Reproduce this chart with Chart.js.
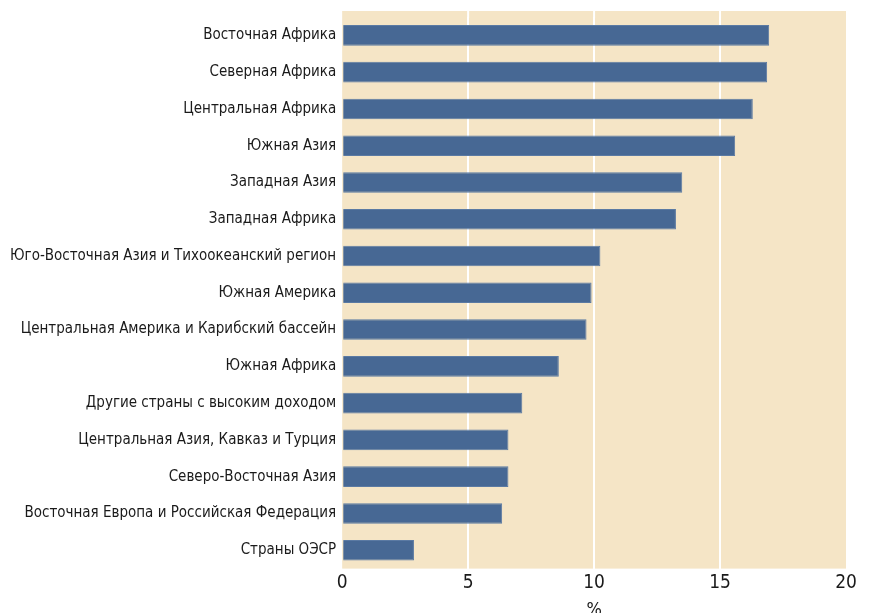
<!DOCTYPE html>
<html lang="ru">
<head>
    <meta charset="UTF-8">
    <title>Регионы, %</title>
    <script src="https://cdn.jsdelivr.net/npm/chart.js"></script>
    <style>
        html, body { margin: 0; padding: 0; background: #ffffff; }
        .chart-box { width: 869px; height: 613px; position: relative; }
    </style>
</head>
<body>
    <div class="chart-box">
        <canvas id="regionChart"></canvas>
    </div>

    <script>
        // Регионы (сверху вниз)
        const regions = [
            'Восточная Африка',
            'Северная Африка',
            'Центральная Африка',
            'Южная Азия',
            'Западная Азия',
            'Западная Африка',
            'Юго-Восточная Азия и Тихоокеанский регион',
            'Южная Америка',
            'Центральная Америка и Карибский бассейн',
            'Южная Африка',
            'Другие страны с высоким доходом',
            'Центральная Азия, Кавказ и Турция',
            'Северо-Восточная Азия',
            'Восточная Европа и Российская Федерация',
            'Страны ОЭСР'
        ];

        // Значения, %
        const shares = [16.95, 16.87, 16.3, 15.6, 13.5, 13.25, 10.25, 9.9, 9.7, 8.6, 7.15, 6.6, 6.6, 6.35, 2.85];

        const xTicks = [0, 5, 10, 15, 20];

        const fontFamily = '"Liberation Sans Narrow", "DejaVu Sans Condensed", "Roboto", sans-serif';
        const topExtra = 6; // фон чуть выше первой категории

        // Бежевый фон области построения
        const plotBackground = {
            id: 'plotBackground',
            beforeDraw(chart) {
                const { ctx, chartArea, scales } = chart;
                const top = chartArea.top - topExtra;
                ctx.save();
                ctx.fillStyle = '#f5e5c6';
                ctx.fillRect(chartArea.left, top, chartArea.right - chartArea.left, chartArea.bottom - top);
                // продолжение белых линий сетки вверх
                ctx.strokeStyle = '#ffffff';
                ctx.lineWidth = 2;
                xTicks.slice(1, -1).forEach(v => {
                    const x = scales.x.getPixelForValue(v);
                    ctx.beginPath();
                    ctx.moveTo(x, top);
                    ctx.lineTo(x, chartArea.top + 1);
                    ctx.stroke();
                });
                ctx.restore();
            }
        };

        const ctx = document.getElementById('regionChart').getContext('2d');
        new Chart(ctx, {
            type: 'bar',
            data: {
                labels: regions,
                datasets: [{
                    data: shares,
                    backgroundColor: '#476894',
                    borderColor: '#5b7aa3',
                    borderWidth: 1,
                    categoryPercentage: 1,
                    barPercentage: 0.56
                }]
            },
            options: {
                indexAxis: 'y',
                responsive: true,
                maintainAspectRatio: false,
                animation: false,
                layout: { padding: { top: 17, right: 23, bottom: -8, left: 4 } },
                plugins: {
                    legend: { display: false },
                    tooltip: { enabled: false }
                },
                scales: {
                    x: {
                        min: 0,
                        max: 20,
                        afterBuildTicks(axis) {
                            axis.ticks = xTicks.map(v => ({ value: v }));
                        },
                        grid: {
                            // без линий по краям области
                            color: c => (c.tick && (c.tick.value === 0 || c.tick.value === 20)) ? 'rgba(0,0,0,0)' : '#ffffff',
                            lineWidth: 2,
                            drawTicks: false
                        },
                        border: { display: false },
                        ticks: {
                            color: '#1a1a1a',
                            padding: 3,
                            font: { family: fontFamily, size: 19 }
                        },
                        title: {
                            display: true,
                            text: '%',
                            color: '#1a1a1a',
                            padding: { top: 2, bottom: 0 },
                            font: { family: fontFamily, size: 18 }
                        }
                    },
                    y: {
                        afterFit(axis) {
                            // метки по центру категорий, лишний отступ сверху не нужен
                            axis.paddingTop = 0;
                            axis.paddingBottom = 0;
                        },
                        grid: { display: false, drawTicks: false },
                        border: { display: false },
                        ticks: {
                            color: '#1a1a1a',
                            padding: 6,
                            font: { family: fontFamily, size: 15 }
                        }
                    }
                }
            },
            plugins: [plotBackground]
        });
    </script>
</body>
</html>
